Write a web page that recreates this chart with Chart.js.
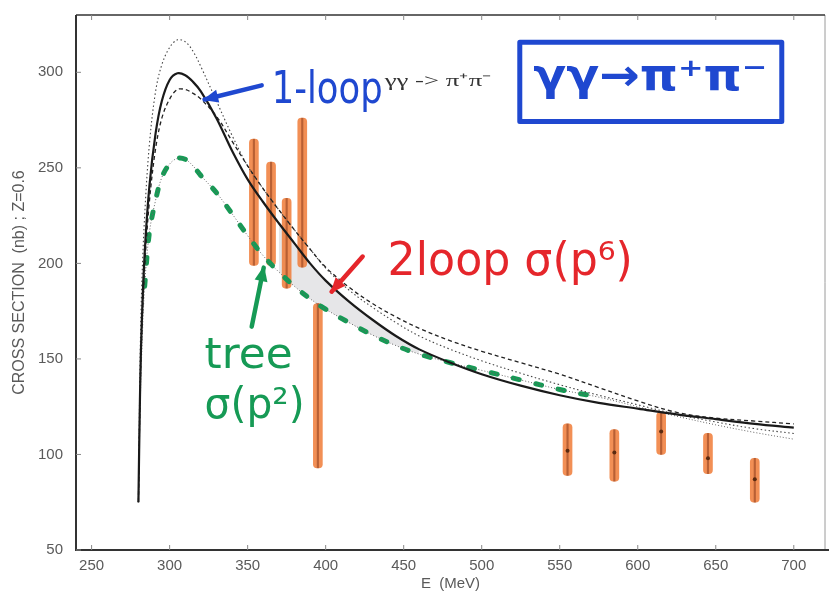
<!DOCTYPE html>
<html>
<head>
<meta charset="utf-8">
<script src="https://cdn.jsdelivr.net/npm/chart.js@4.4.1/dist/chart.umd.min.js"></script>
<style>
  html, body { margin: 0; padding: 0; background: #fff; }
</style>
</head>
<body>
<canvas id="chart" width="829" height="594"></canvas>
<script>
// energies (MeV) shared by every curve
const energy = [280, 281, 282, 284, 287, 291, 295, 300, 305, 310, 315, 320, 330, 340, 350, 360, 370, 380, 390, 400,
  415, 430, 445, 460, 480, 500, 525, 550, 575, 600, 625, 650, 675, 700];
// cross sections (nb)
const twoLoop = [75, 130, 165, 205, 240, 268, 285, 296, 299.5, 298.5, 295, 290, 276, 259, 244, 232, 221, 210.5, 200, 191,
  180, 170.5, 162, 155, 148, 142, 136, 131, 127, 124, 121, 118.5, 116, 114];
const oneLoop = [75, 128, 160, 198, 232, 260, 276, 286, 291, 291, 289, 286, 277, 264, 251, 239, 228, 217.5, 207.5, 198,
  187.5, 179, 172, 166, 159.5, 154, 148, 142, 135, 128, 122, 119, 117.5, 116];
const oneLoopAlt = [75, 145, 185, 225, 262, 290, 304, 313, 317, 316, 311, 303, 285, 267, 251, 239, 228, 217.5, 207.5, 197.5,
  186, 177, 169, 162, 155, 149, 142.5, 136.5, 131, 126, 121, 117, 113.5, 111];
const tree = [75, 120, 150, 188, 216, 233, 245, 252, 255, 254.5, 251, 246, 237, 226, 214.5, 204, 195.5, 188, 181.5, 176,
  169, 162.5, 157, 152.5, 148, 144, 139, 134, 130, 125, 120, 115.5, 111.5, 108];

// data points with error bars
const dataE = [354, 365, 375, 385, 395, 555, 585, 615, 645, 675];
const dataLow = [199, 199, 187, 198, 93, 89, 86, 100, 90, 75];
const dataHigh = [265, 253, 234, 276, 179, 116, 113, 122, 111, 98];
const dataCentralE = [555, 585, 615, 645, 675];
const dataCentral = [102, 101, 112, 98, 87];

const xTicks = [250, 300, 350, 400, 450, 500, 550, 600, 650, 700];
const yTicks = [50, 100, 150, 200, 250, 300];

const pts = (ys, lo = -Infinity, hi = Infinity) =>
  energy.map((e, i) => ({ x: e, y: ys[i] })).filter(p => p.x >= lo && p.x <= hi);

const BLUE = '#1f48d0', RED = '#e5262b', GREEN = '#169a55';

// hand-written notes, placed in data units
const notes = [
  { text: '1-loop', e0: 365.4, e1: 436.5, v: 283.8, size: 44, color: BLUE, font: 'DejaVu Sans' },
  { text: 'γγ -> π⁺π⁻', e0: 437.8, e1: 506.4, v: 293.0, size: 17, color: '#333', font: 'Liberation Serif' },
  { text: 'γγ→π⁺π⁻', e0: 533, e1: 683, v: 290.5, size: 44, color: BLUE, font: 'DejaVu Sans', bold: true },
  { text: '2loop σ(p⁶)', e0: 439.7, e1: 596.8, v: 194, size: 46, color: RED, font: 'DejaVu Sans' },
  { text: 'tree', e0: 322.4, e1: 378.8, v: 145.4, size: 42, color: GREEN, font: 'DejaVu Sans' },
  { text: 'σ(p²)', e0: 322.4, e1: 386.5, v: 119.2, size: 42, color: GREEN, font: 'DejaVu Sans' }
];
const arrows = [
  { e0: 359, v0: 293.2, e1: 322.4, v1: 285.8, color: BLUE },
  { e0: 423.7, v0: 203.6, e1: 403.8, v1: 185.2, color: RED },
  { e0: 352.6, v0: 166.9, e1: 360.3, v1: 197.8, color: GREEN }
];
const box = { e0: 524.4, e1: 692.3, v0: 315.7, v1: 274.3 };

const framePlugin = {
  id: 'frame',
  afterDraw(chart) {
    const { ctx, chartArea: a, scales: { x, y } } = chart;
    ctx.save();
    ctx.strokeStyle = '#9a9a9a';
    ctx.lineWidth = 1;
    ctx.beginPath(); ctx.moveTo(a.right, a.top); ctx.lineTo(a.right, a.bottom); ctx.stroke();
    ctx.strokeStyle = '#333';
    ctx.lineWidth = 1.6;
    ctx.beginPath(); ctx.moveTo(a.left, a.top); ctx.lineTo(a.right, a.top); ctx.stroke();
    ctx.lineWidth = 2;
    ctx.beginPath();
    ctx.moveTo(a.left, a.top); ctx.lineTo(a.left, a.bottom); ctx.lineTo(chart.width, a.bottom);
    ctx.stroke();
    ctx.lineWidth = 1;
    ctx.strokeStyle = '#888';
    xTicks.forEach(t => {
      const px = x.getPixelForValue(t);
      ctx.beginPath();
      ctx.moveTo(px, a.bottom); ctx.lineTo(px, a.bottom - 5);
      ctx.moveTo(px, a.top); ctx.lineTo(px, a.top + 5);
      ctx.stroke();
    });
    yTicks.forEach(t => {
      const py = y.getPixelForValue(t);
      ctx.beginPath(); ctx.moveTo(a.left, py); ctx.lineTo(a.left + 5, py); ctx.stroke();
    });
    ctx.restore();
  }
};

const notesPlugin = {
  id: 'notes',
  afterDatasetsDraw(chart) {
    const { ctx, scales: { x, y } } = chart;
    ctx.save();
    // box around the process name
    const bx0 = x.getPixelForValue(box.e0), bx1 = x.getPixelForValue(box.e1);
    const by0 = y.getPixelForValue(box.v0), by1 = y.getPixelForValue(box.v1);
    ctx.strokeStyle = BLUE;
    ctx.lineWidth = 5;
    ctx.lineJoin = 'round';
    ctx.strokeRect(bx0, by0, bx1 - bx0, by1 - by0);
    notes.forEach(n => {
      const x0 = x.getPixelForValue(n.e0), x1 = x.getPixelForValue(n.e1);
      ctx.font = (n.bold ? 'bold ' : '') + n.size + 'px "' + n.font + '"';
      const w = ctx.measureText(n.text).width;
      ctx.save();
      ctx.translate(x0, y.getPixelForValue(n.v));
      ctx.scale((x1 - x0) / w, 1);
      ctx.fillStyle = n.color;
      ctx.textBaseline = 'alphabetic';
      ctx.fillText(n.text, 0, 0);
      ctx.restore();
    });
    arrows.forEach(ar => {
      const x0 = x.getPixelForValue(ar.e0), y0 = y.getPixelForValue(ar.v0);
      const x1 = x.getPixelForValue(ar.e1), y1 = y.getPixelForValue(ar.v1);
      const ang = Math.atan2(y1 - y0, x1 - x0);
      ctx.strokeStyle = ar.color;
      ctx.fillStyle = ar.color;
      ctx.lineWidth = 4.5;
      ctx.lineCap = 'round';
      ctx.beginPath(); ctx.moveTo(x0, y0); ctx.lineTo(x1, y1); ctx.stroke();
      ctx.beginPath();
      ctx.moveTo(x1 + 2 * Math.cos(ang), y1 + 2 * Math.sin(ang));
      ctx.lineTo(x1 - 15 * Math.cos(ang - 0.45), y1 - 15 * Math.sin(ang - 0.45));
      ctx.lineTo(x1 - 15 * Math.cos(ang + 0.45), y1 - 15 * Math.sin(ang + 0.45));
      ctx.closePath();
      ctx.fill();
    });
    ctx.restore();
  }
};

const lineDefaults = { type: 'line', pointRadius: 0, tension: 0.35, fill: false };
const tickFont = { family: 'Liberation Sans', size: 15 };

new Chart(document.getElementById('chart'), {
  type: 'line',
  data: {
    datasets: [
      // shaded 2-loop band
      { ...lineDefaults, data: pts(twoLoop, 370, 470), borderWidth: 0, borderColor: 'rgba(0,0,0,0)', order: 20 },
      { ...lineDefaults, data: pts(tree, 370, 470), borderWidth: 0, borderColor: 'rgba(0,0,0,0)',
        fill: '-1', backgroundColor: 'rgba(205,205,210,0.5)', order: 19 },
      // error bars
      { type: 'bar', data: dataE.map((e, i) => ({ x: e, y: [dataLow[i], dataHigh[i]] })),
        backgroundColor: 'rgba(240,128,62,0.88)', barThickness: 9, borderRadius: 4, borderSkipped: false,
        grouped: false, order: 15 },
      { type: 'bar', data: dataE.map((e, i) => ({ x: e, y: [dataLow[i], dataHigh[i]] })),
        backgroundColor: 'rgba(130,50,20,0.5)', barThickness: 1.5, grouped: false, order: 14 },
      { type: 'scatter', data: dataCentralE.map((e, i) => ({ x: e, y: dataCentral[i] })),
        pointRadius: 2, backgroundColor: '#5a2a10', borderWidth: 0, order: 13 },
      // green marker over the tree curve
      { ...lineDefaults, data: pts(tree, 284, 580), borderColor: GREEN, borderWidth: 5,
        borderDash: [6, 17], borderCapStyle: 'round', order: 6 },
      { ...lineDefaults, data: pts(tree), borderColor: '#666', borderWidth: 1, borderDash: [1, 2], order: 5 },
      { ...lineDefaults, data: pts(oneLoopAlt), borderColor: '#444', borderWidth: 1.1, borderDash: [1.5, 2.5], order: 4 },
      { ...lineDefaults, data: pts(oneLoop), borderColor: '#222', borderWidth: 1.3, borderDash: [4, 3], order: 3 },
      { ...lineDefaults, data: pts(twoLoop), borderColor: '#1a1a1a', borderWidth: 2.2, order: 2 }
    ]
  },
  options: {
    responsive: false,
    animation: false,
    devicePixelRatio: 1,
    layout: { padding: { top: 15, right: 3, left: 0, bottom: 0 } },
    plugins: { legend: { display: false }, tooltip: { enabled: false } },
    scales: {
      x: {
        type: 'linear', min: 240, max: 720, offset: false,
        afterFit: s => { s.height = 44; s.paddingLeft = 0; s.paddingRight = 0; },
        afterBuildTicks: s => { s.ticks = xTicks.map(v => ({ value: v })); },
        grid: { display: false, drawTicks: false },
        border: { display: false },
        ticks: { padding: 7, color: '#5a5a5a', font: tickFont },
        title: { display: true, text: 'E  (MeV)', color: '#5a5a5a', padding: { bottom: 1 },
          font: { family: 'Liberation Sans', size: 15 } }
      },
      y: {
        min: 50, max: 330,
        afterFit: s => { s.width = 76; s.paddingTop = 0; s.paddingBottom = 0; },
        afterBuildTicks: s => { s.ticks = yTicks.map(v => ({ value: v })); },
        grid: { display: false, drawTicks: false },
        border: { display: false },
        ticks: { padding: 13, color: '#5a5a5a', font: tickFont },
        title: { display: true, text: 'CROSS SECTION  (nb) ; Z=0.6', color: '#5a5a5a', padding: { top: 10 },
          font: { family: 'Liberation Sans', size: 16 } }
      }
    }
  },
  plugins: [framePlugin, notesPlugin]
});
</script>
</body>
</html>
